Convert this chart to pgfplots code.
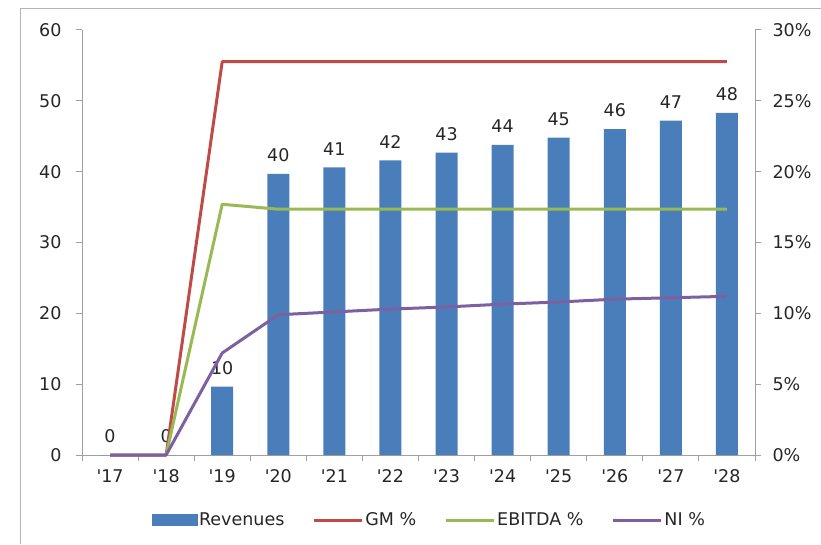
\documentclass[border=0pt]{standalone}
\usepackage{pgfplots}
\pgfplotsset{compat=1.18}
\usepackage{fontspec}
\setmainfont{DejaVu Sans}[Ligatures=TeXOff]
\definecolor{barblue}{HTML}{4A7EBB}
\definecolor{gmred}{HTML}{BE4B48}
\definecolor{ebgreen}{HTML}{98B954}
\definecolor{nipurple}{HTML}{7D60A0}
\definecolor{axgray}{HTML}{A0A0A0}
\newcommand{\cfont}{\fontsize{17.5}{20}\selectfont}
\begin{document}
\begin{tikzpicture}[x=1pt,y=1pt,font=\cfont]
\useasboundingbox (0,0) rectangle (821,544);
\draw[axgray!80, line width=1.5pt] (20.5,0) -- (20.5,535.5) -- (821,535.5);
\begin{axis}[
  at={(82pt,89pt)}, anchor=south west, scale only axis,
  width=673pt, height=425pt,
  xmin=-0.5, xmax=11.5, ymin=0, ymax=60,
  axis x line*=bottom, axis y line*=left,
  axis line style={axgray, line width=1pt},
  tick align=outside,
  xtick={0,...,11},
  xticklabels={'17,'18,'19,'20,'21,'22,'23,'24,'25,'26,'27,'28},
  major x tick style={draw=none},
  minor xtick={-0.5,0.5,...,11.5},
  minor x tick style={axgray, line width=1pt},
  minor tick length=6pt,
  major tick length=6pt,
  ytick={0,10,...,60},
  yticklabels={0,10,20,30,40,50,60},
  y tick style={axgray, line width=1pt},
  ticklabel style={font=\cfont, text=black!85},
  xticklabel style={yshift=-5pt},
  yticklabel style={xshift=-11pt},
  /pgf/number format/assume math mode=true,
  clip=false,
]
\addplot[ybar, bar width=22pt, fill=barblue, draw=none,
  nodes near coords={\pgfmathprintnumber[fixed,precision=0]{\pgfplotspointmeta}},
  every node near coord/.append style={font=\cfont, text=black!85, anchor=south, inner sep=0pt, yshift=12pt}]
coordinates {(0,0) (1,0) (2,9.64) (3,39.7) (4,40.6) (5,41.6) (6,42.7) (7,43.8) (8,44.8) (9,46.0) (10,47.2) (11,48.3)};
\end{axis}
\begin{axis}[
  at={(82pt,89pt)}, anchor=south west, scale only axis,
  width=673pt, height=425pt,
  xmin=-0.5, xmax=11.5, ymin=0, ymax=30,
  axis x line=none, axis y line*=right,
  axis line style={axgray, line width=1pt},
  tick align=outside, major tick length=6pt,
  ytick={0,5,...,30},
  yticklabels={0\%,5\%,10\%,15\%,20\%,25\%,30\%},
  y tick style={axgray, line width=1pt},
  ticklabel style={font=\cfont, text=black!85},
  yticklabel style={xshift=8pt},
  legend image code/.code={\draw[#1, line width=3pt] (0pt,0pt) -- (48pt,0pt);},
  legend style={at={(0.516,-0.153)}, anchor=center, draw=none, fill=none,
    legend columns=4, font=\cfont, text=black!85,
    nodes={inner sep=1.5pt},
    /tikz/every even column/.append style={column sep=27pt}},
  legend cell align=left,
  clip=false,
]
\addlegendimage{legend image code/.code={\fill[barblue] (0pt,-5.5pt) rectangle (45pt,5.5pt);}}
\addlegendentry{Revenues}
\addplot[gmred, line width=3pt, mark=none, line join=round] coordinates {(0,0) (1,0) (2,27.76) (3,27.76) (4,27.76) (5,27.76) (6,27.76) (7,27.76) (8,27.76) (9,27.76) (10,27.76) (11,27.76)};
\addlegendentry{GM \%}
\addplot[ebgreen, line width=3pt, mark=none, line join=round] coordinates {(0,0) (1,0) (2,17.7) (3,17.35) (4,17.35) (5,17.35) (6,17.35) (7,17.35) (8,17.35) (9,17.35) (10,17.35) (11,17.35)};
\addlegendentry{EBITDA \%}
\addplot[nipurple, line width=3pt, mark=none, line join=round] coordinates {(0,0) (1,0) (2,7.2) (3,9.9) (4,10.1) (5,10.3) (6,10.45) (7,10.65) (8,10.8) (9,11.0) (10,11.1) (11,11.2)};
\addlegendentry{NI \%}
\end{axis}
\end{tikzpicture}
\end{document}
